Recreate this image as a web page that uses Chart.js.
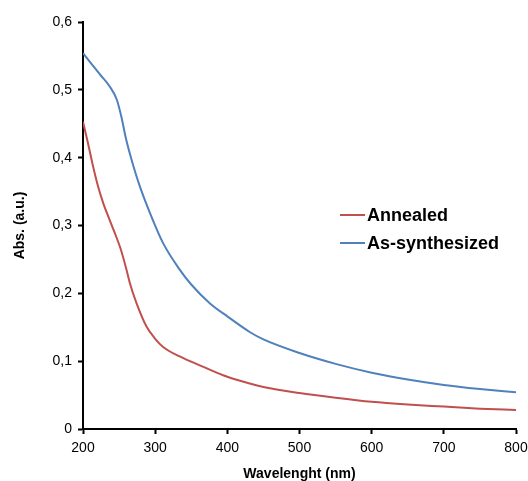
<!DOCTYPE html>
<html lang="en">
<head>
  <meta charset="UTF-8" />
  <title>Absorbance spectra</title>
  <script src="https://cdn.jsdelivr.net/npm/chart.js"></script>
  <style>
    html, body { margin: 0; padding: 0; background: #fff; }
    #wrap { width: 528px; height: 481px; position: relative; }
  </style>
</head>
<body>
  <div id="wrap"><canvas id="absChart"></canvas></div>

  <script>
    // data
    const annealedNm  = [200, 207, 214, 221, 228, 237, 244, 252, 259, 265, 274, 288, 300, 311, 334, 366, 400, 431, 450, 500, 550, 600, 650, 700, 750, 800];
    const annealedAbs = [0.453, 0.421, 0.387, 0.357, 0.333, 0.308, 0.289, 0.266, 0.240, 0.215, 0.186, 0.151, 0.133, 0.121, 0.107, 0.092, 0.077, 0.067, 0.062, 0.053, 0.046, 0.040, 0.036, 0.033, 0.030, 0.028];

    const asSynthNm  = [200, 212, 224, 237, 247, 253, 260, 270, 279, 293, 311, 334, 350, 376, 400, 431, 450, 500, 550, 600, 650, 700, 750, 800];
    const asSynthAbs = [0.554, 0.538, 0.522, 0.505, 0.485, 0.461, 0.426, 0.387, 0.357, 0.318, 0.274, 0.235, 0.213, 0.185, 0.166, 0.143, 0.132, 0.112, 0.096, 0.083, 0.073, 0.065, 0.059, 0.054];

    const seriesNames = ['Annealed', 'As-synthesized'];
    const xTicks = [200, 300, 400, 500, 600, 700, 800];
    const yTicks = [0, 0.1, 0.2, 0.3, 0.4, 0.5, 0.6];

    const toPoints = (xs, ys) => xs.map((x, i) => ({ x: x, y: ys[i] }));
    const fontFamily = "'Liberation Sans', Arial, sans-serif";

    // legend drawn inside the plot, right side
    const sideLegend = {
      id: 'sideLegend',
      afterDraw(chart) {
        const ctx = chart.ctx;
        ctx.save();
        ctx.font = 'bold 18px ' + fontFamily;
        ctx.textBaseline = 'middle';
        chart.data.datasets.forEach((ds, i) => {
          const y = 215 + i * 28;
          ctx.strokeStyle = ds.borderColor;
          ctx.lineWidth = 2;
          ctx.beginPath();
          ctx.moveTo(340, y);
          ctx.lineTo(365, y);
          ctx.stroke();
          ctx.fillStyle = '#000';
          ctx.fillText(ds.label, 367, y + 1);
        });
        ctx.restore();
      }
    };

    new Chart(document.getElementById('absChart'), {
      type: 'line',
      data: {
        datasets: [
          {
            label: seriesNames[0],
            data: toPoints(annealedNm, annealedAbs),
            borderColor: '#c0504d',
            borderWidth: 2,
            pointRadius: 0,
            cubicInterpolationMode: 'monotone'
          },
          {
            label: seriesNames[1],
            data: toPoints(asSynthNm, asSynthAbs),
            borderColor: '#4f81bd',
            borderWidth: 2,
            pointRadius: 0,
            cubicInterpolationMode: 'monotone'
          }
        ]
      },
      options: {
        responsive: true,
        maintainAspectRatio: false,
        animation: false,
        layout: { padding: { top: 22, right: 12, left: 0, bottom: 0 } },
        plugins: {
          legend: { display: false },
          tooltip: { enabled: false }
        },
        scales: {
          x: {
            type: 'linear',
            min: 200,
            max: 800,
            afterBuildTicks: s => { s.ticks = xTicks.map(v => ({ value: v })); },
            afterFit: s => { s.height = 52; s.paddingLeft = 0; s.paddingRight = 0; },
            ticks: {
              color: '#000',
              font: { family: fontFamily, size: 14 },
              padding: 6,
              maxRotation: 0
            },
            grid: {
              drawOnChartArea: false,
              drawTicks: true,
              tickLength: 5,
              tickColor: '#000',
              tickWidth: 2
            },
            border: { color: '#000', width: 2 },
            title: {
              display: true,
              text: 'Wavelenght (nm)',
              color: '#000',
              font: { family: fontFamily, size: 14, weight: 'bold' },
              padding: { top: 0, bottom: -2 }
            }
          },
          y: {
            min: 0,
            max: 0.6,
            afterBuildTicks: s => { s.ticks = yTicks.map(v => ({ value: v })); },
            afterFit: s => { s.width = 83; s.paddingTop = 0; s.paddingBottom = 0; },
            ticks: {
              color: '#000',
              font: { family: fontFamily, size: 14 },
              padding: 6,
              callback: v => v === 0 ? '0' : v.toFixed(1).replace('.', ',')
            },
            grid: {
              drawOnChartArea: false,
              drawTicks: true,
              tickLength: 5,
              tickColor: '#000',
              tickWidth: 2
            },
            border: { color: '#000', width: 2 },
            title: {
              display: true,
              text: 'Abs. (a.u.)',
              color: '#000',
              font: { family: fontFamily, size: 14, weight: 'bold' },
              padding: { top: 12, bottom: 0 }
            }
          }
        }
      },
      plugins: [sideLegend]
    });
  </script>
</body>
</html>
